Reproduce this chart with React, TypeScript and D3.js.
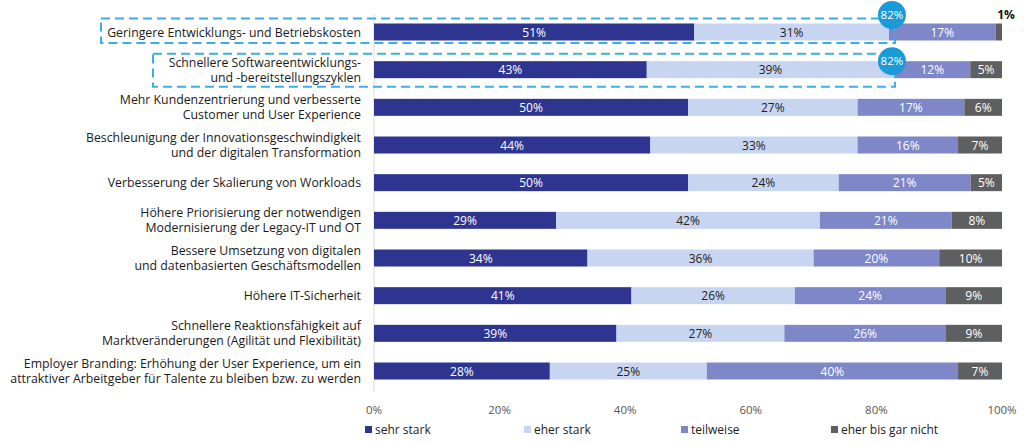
import React from "react";
import * as d3 from "d3";

const categories: string[][] = [
  ["Geringere Entwicklungs- und Betriebskosten"],
  ["Schnellere Softwareentwicklungs-", "und -bereitstellungszyklen"],
  ["Mehr Kundenzentrierung und verbesserte", "Customer und User Experience"],
  ["Beschleunigung der Innovationsgeschwindigkeit", "und der digitalen Transformation"],
  ["Verbesserung der Skalierung von Workloads"],
  ["Höhere Priorisierung der notwendigen", "Modernisierung der Legacy-IT und OT"],
  ["Bessere Umsetzung von digitalen", "und datenbasierten Geschäftsmodellen"],
  ["Höhere IT-Sicherheit"],
  ["Schnellere Reaktionsfähigkeit auf", "Marktveränderungen (Agilität und Flexibilität)"],
  ["Employer Branding: Erhöhung der User Experience, um ein", "attraktiver Arbeitgeber für Talente zu bleiben bzw. zu werden"],
];

const sehrStark = [51, 43, 50, 44, 50, 29, 34, 41, 39, 28];
const eherStark = [31, 39, 27, 33, 24, 42, 36, 26, 27, 25];
const teilweise = [17, 12, 17, 16, 21, 21, 20, 24, 26, 40];
const eherBisGarNicht = [1, 5, 6, 7, 5, 8, 10, 9, 9, 7];

const seriesNames = ["sehr stark", "eher stark", "teilweise", "eher bis gar nicht"];
const seriesColors = ["#2e3590", "#c8d5f1", "#7e87c8", "#5e5f61"];
const labelColors = ["#ffffff", "#222222", "#ffffff", "#ffffff"];
const ticks = [0, 20, 40, 60, 80, 100];

const highlighted = [0, 1];
const highlightLeft = [101, 153];

export default function App() {
  const W = 1024, H = 445;
  const x = d3.scaleLinear().domain([0, 100]).range([374, 1002]);
  const idx = categories.map((_, i) => i);
  const y = d3.scalePoint<number>().domain(idx).range([32, 371]);
  const barH = 17;
  const series = [sehrStark, eherStark, teilweise, eherBisGarNicht];
  const font = "'Open Sans', 'Noto Sans', sans-serif";

  return (
    <svg width={W} height={H} style={{ position: "absolute", left: 0, top: 0, background: "#fff" }} fontFamily={font}>
      <line x1={x(0)} x2={x(0)} y1={14} y2={392} stroke="#d9d9d9" strokeWidth={1} />
      {idx.map((i) => {
        const cy = y(i)!;
        const total = d3.sum(series, (s) => s[i]);
        let acc = 0;
        const lines = categories[i];
        const lh = 15;
        return (
          <g key={i}>
            <text textAnchor="end" fontSize={12.3} fill="#1a1a1a">
              {lines.map((l, k) => (
                <tspan key={k} x={361} y={cy + 4.5 + (k - (lines.length - 1) / 2) * lh}>{l}</tspan>
              ))}
            </text>
            {series.map((s, si) => {
              const v = s[i];
              const x0 = x((acc / total) * 100);
              acc += v;
              const x1 = x((acc / total) * 100);
              const small = v < 3;
              return (
                <g key={si}>
                  <rect x={x0} y={cy - barH / 2} width={x1 - x0} height={barH} fill={seriesColors[si]} />
                  {small ? (
                    <text x={x1 + 4} y={cy - barH / 2 - 5} textAnchor="middle" fontSize={12} fontWeight="bold" fill="#111">{v}%</text>
                  ) : (
                    <text x={(x0 + x1) / 2} y={cy + 4.5} textAnchor="middle" fontSize={12} fill={labelColors[si]}>{v}%</text>
                  )}
                </g>
              );
            })}
          </g>
        );
      })}
      {highlighted.map((i, k) => {
        const cy = y(i)!;
        const total = sehrStark[i] + eherStark[i];
        const xr = x(total) + 6;
        const top = k === 0 ? cy - 13.5 : cy - 16;
        const bot = k === 0 ? cy + 11 : cy + 17;
        const circY = top - 3.5 + (k === 0 ? 0 : 11);
        return (
          <g key={"h" + k}>
            <rect x={highlightLeft[k]} y={top} width={xr - highlightLeft[k]} height={bot - top} fill="none" stroke="#3aaee8" strokeWidth={2} strokeDasharray="9,5" />
            <circle cx={xr - 3} cy={circY} r={14} fill="#1b9ad8" />
            <text x={xr - 3} y={circY + 4} textAnchor="middle" fontSize={11.5} fill="#ffffff">{total}%</text>
          </g>
        );
      })}
      {ticks.map((t) => (
        <text key={t} x={x(t)} y={414} textAnchor="middle" fontSize={11.5} fill="#555">{t}%</text>
      ))}
      {seriesNames.map((n, si) => {
        const lx = [365, 524, 681, 831][si];
        return (
          <g key={n}>
            <rect x={lx} y={426} width={7} height={7} fill={seriesColors[si]} />
            <text x={lx + 10} y={434} fontSize={12} fill="#1a1a1a">{n}</text>
          </g>
        );
      })}
    </svg>
  );
}
